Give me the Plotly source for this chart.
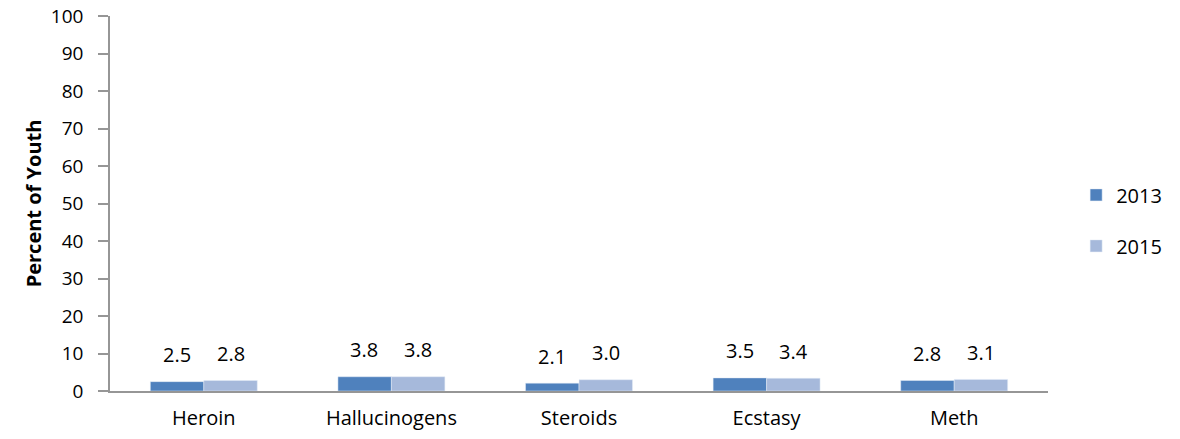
import plotly.graph_objects as go

drogas = ['Heroin', 'Hallucinogens', 'Steroids', 'Ecstasy', 'Meth']
valores_2013 = [2.5, 3.8, 2.1, 3.5, 2.8]
valores_2015 = [2.8, 3.8, 3.0, 3.4, 3.1]
ticks_y = [0, 10, 20, 30, 40, 50, 60, 70, 80, 90, 100]

fuente = 'Open Sans'

fig = go.Figure()
fig.add_trace(go.Bar(x=drogas, y=valores_2013, name='2013', marker_color='#4F81BD',
                     legendgroup='a'))
fig.add_trace(go.Bar(x=drogas, y=valores_2015, name='2015', marker_color='#A6B9DB',
                     legendgroup='b'))

# Etiquetas de datos encima de cada barra
for serie, desplaz in [(valores_2013, -27), (valores_2015, 27)]:
    for d, v in zip(drogas, serie):
        fig.add_annotation(x=d, y=v, text=f'{v:.1f}', xshift=desplaz, yshift=27,
                           showarrow=False, font=dict(size=20, color='black', family=fuente))

fig.update_layout(
    width=1180, height=439,
    margin=dict(l=110, r=132, t=16, b=48, autoexpand=False),
    barmode='group', bargap=0.43, bargroupgap=0,
    plot_bgcolor='white', paper_bgcolor='white',
    font=dict(family=fuente, size=20, color='black'),
    showlegend=True,
    legend=dict(x=1.03, y=0.455, xanchor='left', yanchor='middle',
                tracegroupgap=22, font=dict(size=20)),
    xaxis=dict(showline=True, linecolor='#969696', linewidth=1.5, ticks='',
               showgrid=False, automargin=False, ticklabelstandoff=8),
    yaxis=dict(range=[0, 100], tickvals=ticks_y, showline=True, linecolor='#969696',
               linewidth=1.5, ticks='outside', ticklen=10, tickcolor='#969696',
               tickwidth=1.5, ticklabelstandoff=11, ticklabeloverflow='allow',
               tickfont=dict(size=19),
               showgrid=False, zeroline=False, automargin=False,
               title=dict(text='<b>Percent of Youth</b>', font=dict(size=20), standoff=4)),
)

# quitar el margen por defecto del body para que el gráfico empiece en (0, 0)
fig.write_html('out.html', config={'displayModeBar': False},
               post_script="document.body.style.margin='0';")
